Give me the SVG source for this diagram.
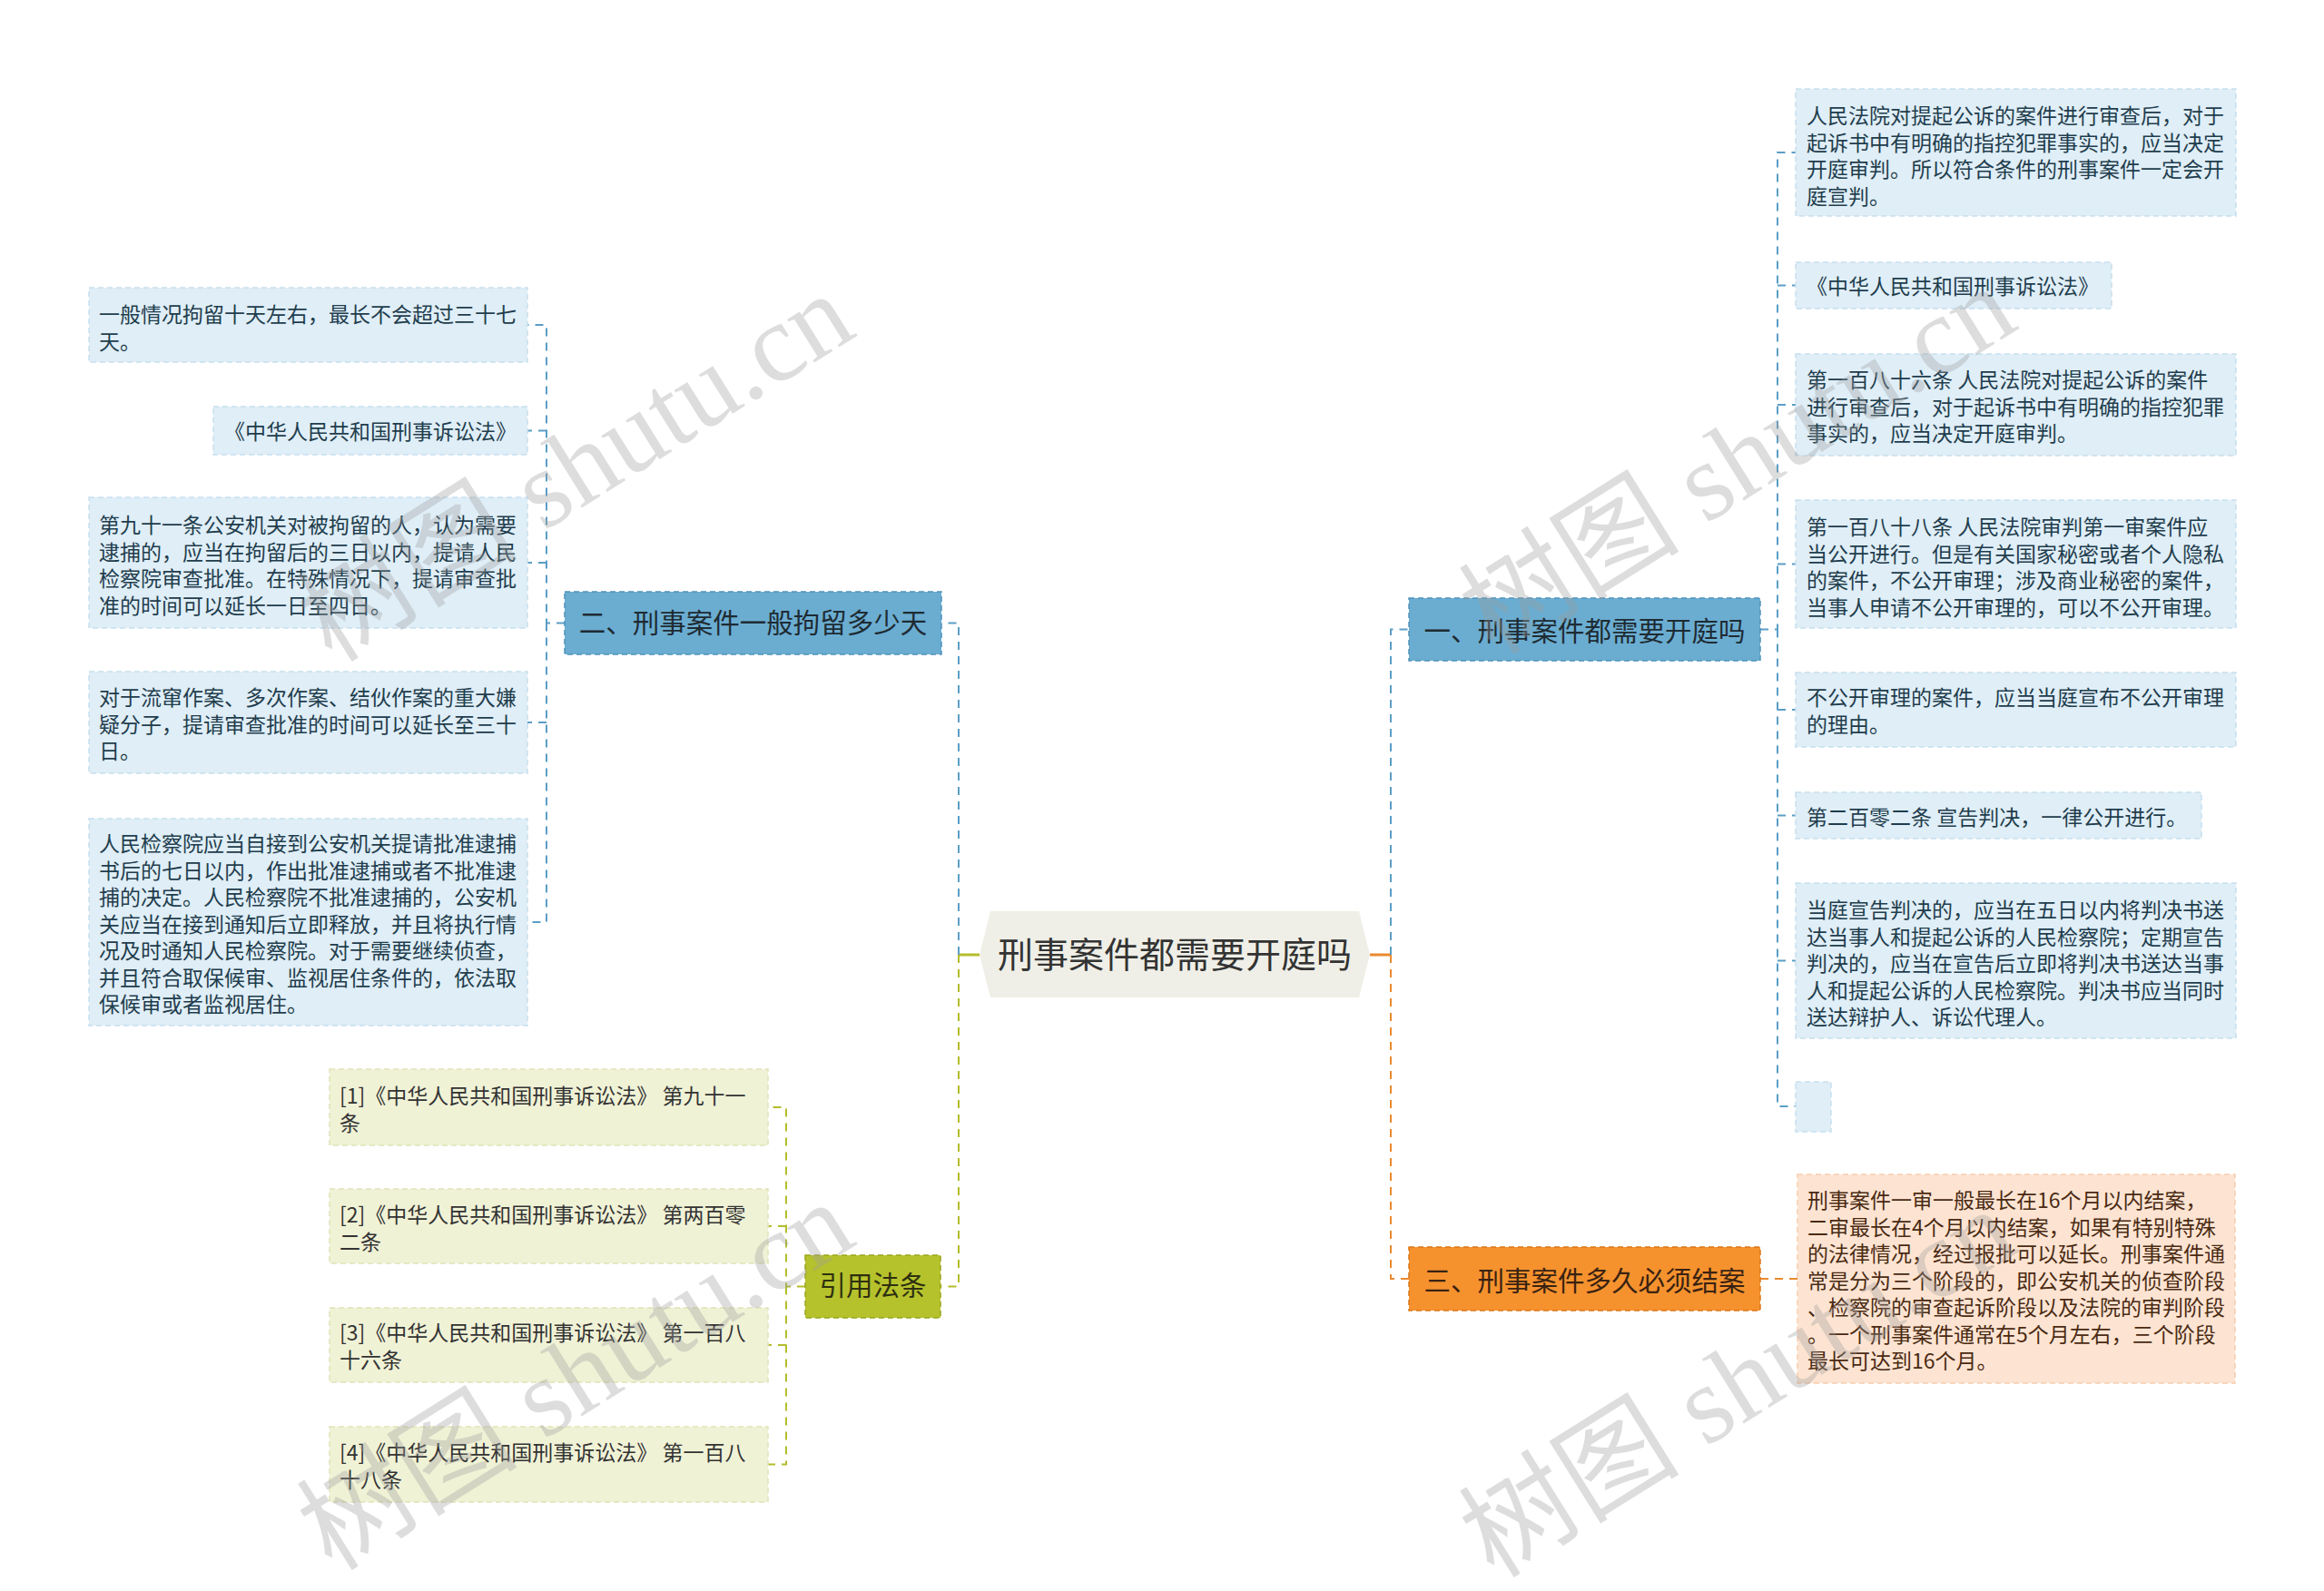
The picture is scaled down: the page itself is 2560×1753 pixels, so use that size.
<svg xmlns="http://www.w3.org/2000/svg" width="2560" height="1753" viewBox="0 0 2560 1753">
<style>
text{font-family:"Noto Sans CJK SC","Noto Sans",sans-serif}
.t{font-size:23px;fill:#1f3d4d}
.to{font-size:23px;fill:#4a2a12}
.tr{font-size:23px;fill:#333}
.m{font-size:29.5px;fill:#1e2b33;text-anchor:middle}
.cen{font-size:39px;fill:#333;text-anchor:middle}
.cb{fill:#dfeef7;stroke:#c7dfee;stroke-width:1.5;stroke-dasharray:6 4}
.co{fill:#fde4d2;stroke:#f6cdb0;stroke-width:1.5;stroke-dasharray:6 4}
.cy{fill:#f0f2d6;stroke:#e0e4b8;stroke-width:1.5;stroke-dasharray:6 4}
.mb{fill:#6badd1;stroke:#4f93ba;stroke-width:1.5;stroke-dasharray:6 4}
.mo{fill:#f5922e;stroke:#d9771a;stroke-width:1.5;stroke-dasharray:6 4}
.my{fill:#b6c22c;stroke:#9aa51d;stroke-width:1.5;stroke-dasharray:6 4}
.lb{fill:none;stroke:#5b9ec6;stroke-width:2;stroke-dasharray:9 7}
.lo{fill:none;stroke:#ea8a2f;stroke-width:2;stroke-dasharray:9 7}
.ly{fill:none;stroke:#b3bd2a;stroke-width:2;stroke-dasharray:9 7}
.wm{font-family:"Liberation Serif","Noto Sans CJK SC",serif;font-size:122px;fill:#9a9a9a;fill-opacity:0.34;text-anchor:middle}
</style>

<g id="connectors">
  <path d="M1079 1052 H1056" fill="none" stroke="#b3bd2a" stroke-width="3"/>
  <path d="M1509 1052 H1532" fill="none" stroke="#ea8a2f" stroke-width="3"/>
  <path class="lb" d="M1056 1052 V686.5 H1037"/>
  <path class="ly" d="M1056 1052 V1417.5 H1036"/>
  <path class="lb" d="M1532 1052 V693.5 H1552"/>
  <path class="lo" d="M1532 1052 V1409 H1552"/>
  <path class="lb" d="M622 686.5 H602 V358 H581"/>
  <path class="lb" d="M602 474.5 H581"/>
  <path class="lb" d="M602 620 H581"/>
  <path class="lb" d="M602 686.5 V1016 H581"/>
  <path class="lb" d="M602 796 H581"/>
  <path class="lb" d="M1939 693.5 H1958 V168 H1978"/>
  <path class="lb" d="M1958 314.5 H1978"/>
  <path class="lb" d="M1958 446 H1978"/>
  <path class="lb" d="M1958 621.5 H1978"/>
  <path class="lb" d="M1958 693.5 V1219 H1978"/>
  <path class="lb" d="M1958 782 H1978"/>
  <path class="lb" d="M1958 898.5 H1978"/>
  <path class="lb" d="M1958 1058.5 H1978"/>
  <path class="lo" d="M1939 1409 H1980"/>
  <path class="ly" d="M887 1417.5 H866 V1220 H846"/>
  <path class="ly" d="M866 1351 H846"/>
  <path class="ly" d="M866 1417.5 V1613.5 H846"/>
  <path class="ly" d="M866 1482 H846"/>
</g>

<g id="center">
  <polygon points="1079,1052 1091,1004 1497,1004 1509,1052 1497,1099 1091,1099" fill="#efefe7"/>
  <text class="cen" x="1294" y="1066">刑事案件都需要开庭吗</text>
</g>

<g id="n-er">
  <rect class="mb" x="622" y="652" width="415" height="69"/>
  <text class="m" x="829.5" y="697">二、刑事案件一般拘留多少天</text>
</g>
<g id="n-yi">
  <rect class="mb" x="1552" y="659" width="387" height="69"/>
  <text class="m" x="1745.5" y="706">一、刑事案件都需要开庭吗</text>
</g>
<g id="n-san">
  <rect class="mo" x="1552" y="1374" width="387" height="70"/>
  <text class="m" x="1745.5" y="1422" style="fill:#3a2212">三、刑事案件多久必须结案</text>
</g>
<g id="n-ref">
  <rect class="my" x="887" y="1383" width="149" height="69"/>
  <text class="m" x="961.5" y="1427" style="fill:#2e3010">引用法条</text>
</g>

<g id="l1">
  <rect class="cb" x="98" y="317" width="483" height="82"/>
  <text class="t" x="109" y="355">一般情况拘留十天左右，最长不会超过三十七</text>
  <text class="t" x="109" y="384.5">天。</text>
</g>
<g id="l2">
  <rect class="cb" x="235" y="448" width="346" height="53"/>
  <text class="t" x="247" y="484">《中华人民共和国刑事诉讼法》</text>
</g>
<g id="l3">
  <rect class="cb" x="98" y="548" width="483" height="144"/>
  <text class="t" x="109" y="587">第九十一条公安机关对被拘留的人，认为需要</text>
  <text class="t" x="109" y="616.5">逮捕的，应当在拘留后的三日以内，提请人民</text>
  <text class="t" x="109" y="646">检察院审查批准。在特殊情况下，提请审查批</text>
  <text class="t" x="109" y="675.5">准的时间可以延长一日至四日。</text>
</g>
<g id="l4">
  <rect class="cb" x="98" y="740" width="483" height="112"/>
  <text class="t" x="109" y="777">对于流窜作案、多次作案、结伙作案的重大嫌</text>
  <text class="t" x="109" y="806.5">疑分子，提请审查批准的时间可以延长至三十</text>
  <text class="t" x="109" y="836">日。</text>
</g>
<g id="l5">
  <rect class="cb" x="98" y="902" width="483" height="228"/>
  <text class="t" x="109" y="938">人民检察院应当自接到公安机关提请批准逮捕</text>
  <text class="t" x="109" y="967.5">书后的七日以内，作出批准逮捕或者不批准逮</text>
  <text class="t" x="109" y="997">捕的决定。人民检察院不批准逮捕的，公安机</text>
  <text class="t" x="109" y="1026.5">关应当在接到通知后立即释放，并且将执行情</text>
  <text class="t" x="109" y="1056">况及时通知人民检察院。对于需要继续侦查，</text>
  <text class="t" x="109" y="1085.5">并且符合取保候审、监视居住条件的，依法取</text>
  <text class="t" x="109" y="1115">保候审或者监视居住。</text>
</g>

<g id="r1">
  <rect class="cb" x="1978" y="98" width="485" height="140"/>
  <text class="t" x="1990" y="136">人民法院对提起公诉的案件进行审查后，对于</text>
  <text class="t" x="1990" y="165.5">起诉书中有明确的指控犯罪事实的，应当决定</text>
  <text class="t" x="1990" y="195">开庭审判。所以符合条件的刑事案件一定会开</text>
  <text class="t" x="1990" y="224.5">庭宣判。</text>
</g>
<g id="r2">
  <rect class="cb" x="1978" y="289" width="348" height="51"/>
  <text class="t" x="1990" y="324">《中华人民共和国刑事诉讼法》</text>
</g>
<g id="r3">
  <rect class="cb" x="1978" y="390" width="485" height="112"/>
  <text class="t" x="1990" y="427">第一百八十六条 人民法院对提起公诉的案件</text>
  <text class="t" x="1990" y="456.5">进行审查后，对于起诉书中有明确的指控犯罪</text>
  <text class="t" x="1990" y="486">事实的，应当决定开庭审判。</text>
</g>
<g id="r4">
  <rect class="cb" x="1978" y="551" width="485" height="141"/>
  <text class="t" x="1990" y="589">第一百八十八条 人民法院审判第一审案件应</text>
  <text class="t" x="1990" y="618.5">当公开进行。但是有关国家秘密或者个人隐私</text>
  <text class="t" x="1990" y="648">的案件，不公开审理；涉及商业秘密的案件，</text>
  <text class="t" x="1990" y="677.5">当事人申请不公开审理的，可以不公开审理。</text>
</g>
<g id="r5">
  <rect class="cb" x="1978" y="741" width="485" height="82"/>
  <text class="t" x="1990" y="777">不公开审理的案件，应当当庭宣布不公开审理</text>
  <text class="t" x="1990" y="806.5">的理由。</text>
</g>
<g id="r6">
  <rect class="cb" x="1978" y="873" width="447" height="51"/>
  <text class="t" x="1990" y="909">第二百零二条 宣告判决，一律公开进行。</text>
</g>
<g id="r7">
  <rect class="cb" x="1978" y="973" width="485" height="171"/>
  <text class="t" x="1990" y="1011">当庭宣告判决的，应当在五日以内将判决书送</text>
  <text class="t" x="1990" y="1040.5">达当事人和提起公诉的人民检察院；定期宣告</text>
  <text class="t" x="1990" y="1070">判决的，应当在宣告后立即将判决书送达当事</text>
  <text class="t" x="1990" y="1099.5">人和提起公诉的人民检察院。判决书应当同时</text>
  <text class="t" x="1990" y="1129">送达辩护人、诉讼代理人。</text>
</g>
<g id="r8">
  <rect class="cb" x="1978" y="1192" width="39" height="55"/>
</g>
<g id="r9">
  <rect class="co" x="1980" y="1294" width="482" height="230"/>
  <text class="to" x="1991" y="1331">刑事案件一审一般最长在16个月以内结案，</text>
  <text class="to" x="1991" y="1360.5">二审最长在4个月以内结案，如果有特别特殊</text>
  <text class="to" x="1991" y="1390">的法律情况，经过报批可以延长。刑事案件通</text>
  <text class="to" x="1991" y="1419.5">常是分为三个阶段的，即公安机关的侦查阶段</text>
  <text class="to" x="1991" y="1449">、检察院的审查起诉阶段以及法院的审判阶段</text>
  <text class="to" x="1991" y="1478.5">。一个刑事案件通常在5个月左右，三个阶段</text>
  <text class="to" x="1991" y="1508">最长可达到16个月。</text>
</g>

<g id="f1">
  <rect class="cy" x="363" y="1178" width="483" height="84"/>
  <text class="tr" x="374" y="1216">[1]《中华人民共和国刑事诉讼法》 第九十一</text>
  <text class="tr" x="374" y="1245.5">条</text>
</g>
<g id="f2">
  <rect class="cy" x="363" y="1310" width="483" height="82"/>
  <text class="tr" x="374" y="1347">[2]《中华人民共和国刑事诉讼法》 第两百零</text>
  <text class="tr" x="374" y="1376.5">二条</text>
</g>
<g id="f3">
  <rect class="cy" x="363" y="1441" width="483" height="82"/>
  <text class="tr" x="374" y="1477">[3]《中华人民共和国刑事诉讼法》 第一百八</text>
  <text class="tr" x="374" y="1506.5">十六条</text>
</g>
<g id="f4">
  <rect class="cy" x="363" y="1572" width="483" height="83"/>
  <text class="tr" x="374" y="1609">[4]《中华人民共和国刑事诉讼法》 第一百八</text>
  <text class="tr" x="374" y="1638.5">十八条</text>
</g>

<g id="watermarks">
  <text class="wm" transform="translate(656,550) rotate(-32)">树图 shutu.cn</text>
  <text class="wm" transform="translate(1936,542) rotate(-32)">树图 shutu.cn</text>
  <text class="wm" transform="translate(656,1551) rotate(-32)">树图 shutu.cn</text>
  <text class="wm" transform="translate(1936,1559) rotate(-32)">树图 shutu.cn</text>
</g>
</svg>
